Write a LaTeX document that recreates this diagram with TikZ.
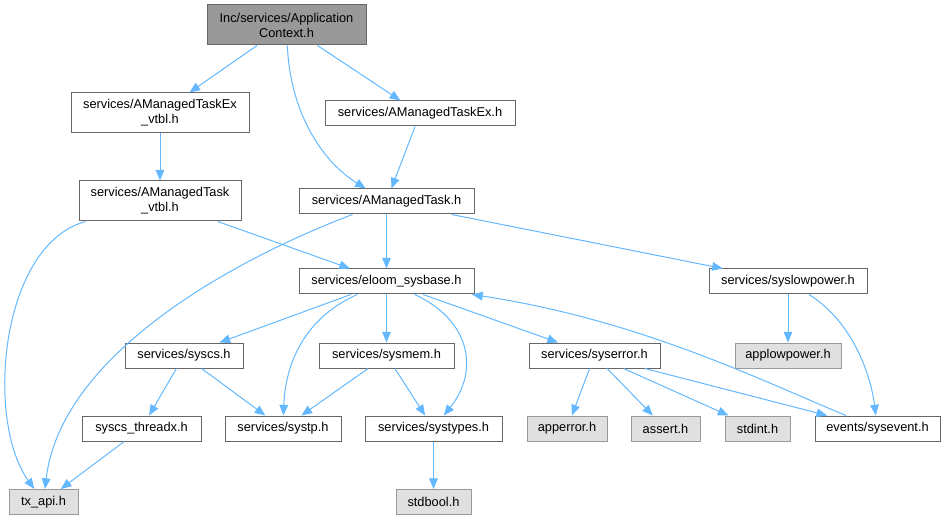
\documentclass[tikz,border=0pt]{standalone}
\usepackage{fontspec}
\setmainfont{Liberation Sans}
\usepackage{tikz}
\usetikzlibrary{arrows.meta}
\definecolor{edgeblue}{RGB}{99,184,255}
\definecolor{boxline}{RGB}{102,102,102}
\definecolor{extline}{RGB}{153,153,153}
\definecolor{extfill}{RGB}{224,224,224}

\begin{document}
\begin{tikzpicture}[x=0.75pt,y=0.75pt,
  file/.style={draw=boxline,fill=white,line width=0.75pt,inner sep=0pt,
    minimum height=18.75pt,align=center,
    font=\fontsize{9.6}{11.25}\selectfont},
  cur/.style={file,fill=extline,minimum height=30pt},
  ext/.style={file,draw=extline,fill=extfill},
  dep/.style={draw=edgeblue,line width=0.75pt,
    -{Triangle[length=8pt,width=6.5pt]}}]
\useasboundingbox (0,0) rectangle (946,-520);

\node [cur, minimum width=119.25pt] (ctx) at (286.5,-25) {Inc/services/Application\\Context.h};
\node [file, minimum width=133.5pt, minimum height=30pt] (amtexvtbl) at (160,-113) {services/AManagedTaskEx\\\_vtbl.h};
\node [file, minimum width=142.5pt] (amtex) at (420,-113.5) {services/AManagedTaskEx.h};
\node [file, minimum width=121.5pt, minimum height=30pt] (amtvtbl) at (160,-201) {services/AManagedTask\\\_vtbl.h};
\node [file, minimum width=131.25pt] (amt) at (386.5,-201.5) {services/AManagedTask.h};

\node [file, minimum width=131.25pt] (sysbase) at (386.5,-281.5) {services/eloom\_sysbase.h};
\node [file, minimum width=118.5pt] (syslowpower) at (788,-281.5) {services/syslowpower.h};

\node [file, minimum width=88.5pt] (syscs) at (184,-355.5) {services/syscs.h};
\node [file, minimum width=101.25pt] (sysmem) at (386.5,-355.5) {services/sysmem.h};
\node [file, minimum width=98.25pt] (syserror) at (594.5,-355.5) {services/syserror.h};
\node [ext, minimum width=79.5pt] (applowpower) at (788,-355.5) {applowpower.h};

\node [file, minimum width=89.25pt] (threadx) at (141.5,-428.5) {syscs\_threadx.h};
\node [file, minimum width=87pt] (systp) at (283,-428.5) {services/systp.h};
\node [file, minimum width=102.75pt] (systypes) at (433.5,-428.5) {services/systypes.h};
\node [ext, minimum width=60pt] (apperror) at (567,-428.5) {apperror.h};
\node [ext, minimum width=51.75pt] (assert) at (665.5,-428.5) {assert.h};
\node [ext, minimum width=48.75pt] (stdint) at (757.5,-428.5) {stdint.h};
\node [file, minimum width=93.75pt] (sysevent) at (877.5,-428.5) {events/sysevent.h};

\node [ext, minimum width=51.75pt] (txapi) at (43.5,-502) {tx\_api.h};
\node [ext, minimum width=56.25pt] (stdbool) at (433.5,-502) {stdbool.h};

\draw[dep] (ctx) -- (amtexvtbl);
\draw[dep] (ctx) -- (amtex);
\draw[dep] (ctx) .. controls (290,-110) and (320,-160) .. (amt);
\draw[dep] (amtexvtbl) -- (amtvtbl);
\draw[dep] (amtex) -- (amt);

\draw[dep] (amtvtbl) .. controls (0,-245) and (-15,-420) .. (txapi);
\draw[dep] (amtvtbl) -- (sysbase);
\draw[dep] (amt) .. controls (220,-265) and (60,-360) .. (txapi);
\draw[dep] (amt) -- (sysbase);
\draw[dep] (amt) -- (syslowpower);

\draw[dep] (sysbase) -- (syscs);
\draw[dep] (sysbase) .. controls (300,-320) and (285,-370) .. (systp);
\draw[dep] (sysbase) -- (sysmem);
\draw[dep] (sysbase) .. controls (470,-320) and (480,-370) .. (systypes);
\draw[dep] (sysbase) -- (syserror);

\draw[dep] (syslowpower) -- (applowpower);
\draw[dep] (syslowpower) .. controls (850,-320) and (870,-370) .. (sysevent);

\draw[dep] (syscs) -- (threadx);
\draw[dep] (syscs) -- (systp);
\draw[dep] (sysmem) -- (systp);
\draw[dep] (sysmem) -- (systypes);

\draw[dep] (syserror) -- (apperror);
\draw[dep] (syserror) -- (assert);
\draw[dep] (syserror) -- (stdint);
\draw[dep] (syserror) -- (sysevent);
\draw[dep] (sysevent) .. controls (760,-380) and (640,-320) .. (sysbase);

\draw[dep] (threadx) -- (txapi);
\draw[dep] (systypes) -- (stdbool);

\end{tikzpicture}
\end{document}
